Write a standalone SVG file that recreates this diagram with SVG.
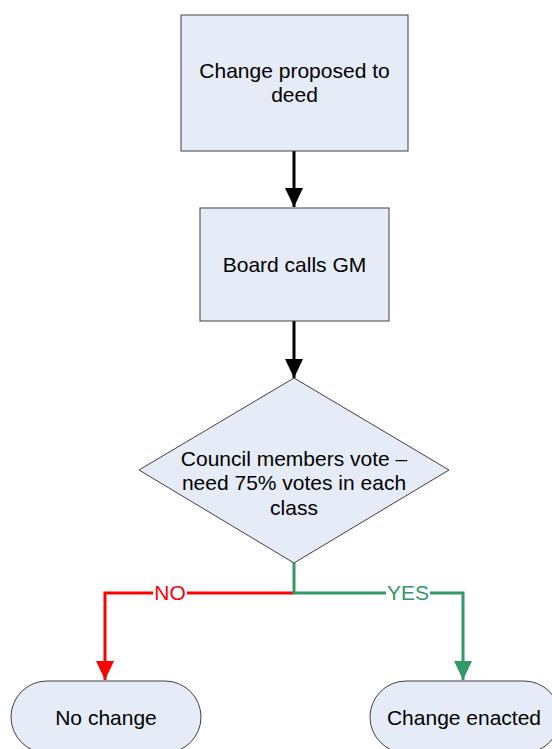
<svg xmlns="http://www.w3.org/2000/svg" width="552" height="749" viewBox="0 0 552 749">
<style>
.n{fill:#E6ECF7;stroke:#404040;stroke-width:1}
.t{font-family:"Liberation Sans",Arial,sans-serif;font-size:21px;fill:#000;text-anchor:middle}
.lbl{font-family:"Liberation Sans",Arial,sans-serif;font-size:21px;text-anchor:middle}
</style>
<defs>
<marker id="ab" markerUnits="userSpaceOnUse" markerWidth="20" markerHeight="20" refX="19" refY="9" orient="auto"><path d="M0,0 L19,9 L0,18 Z" fill="#000"/></marker>
<marker id="ar" markerUnits="userSpaceOnUse" markerWidth="20" markerHeight="20" refX="19" refY="9" orient="auto"><path d="M0,0 L19,9 L0,18 Z" fill="#FF0000"/></marker>
<marker id="ag" markerUnits="userSpaceOnUse" markerWidth="20" markerHeight="20" refX="19" refY="9" orient="auto"><path d="M0,0 L19,9 L0,18 Z" fill="#339966"/></marker>
</defs>
<rect width="552" height="749" fill="#fff"/>
<g id="connectors">
<line x1="294" y1="151" x2="294" y2="207" stroke="#000" stroke-width="3" marker-end="url(#ab)"/>
<line x1="294" y1="321" x2="294" y2="378" stroke="#000" stroke-width="3" marker-end="url(#ab)"/>
<polyline points="294,593 105,593 105,680" fill="none" stroke="#FF0000" stroke-width="3" marker-end="url(#ar)"/>
<polyline points="294,563 294,593 463,593 463,680" fill="none" stroke="#339966" stroke-width="3" marker-end="url(#ag)"/>
<rect x="153" y="583" width="34" height="20" fill="#fff"/>
<text class="lbl" x="170" y="600" fill="#FF0000">NO</text>
<rect x="386" y="583" width="44" height="20" fill="#fff"/>
<text class="lbl" x="408" y="600" fill="#339966">YES</text>
</g>
<g id="n1">
<rect class="n" x="181" y="15" width="227" height="136"/>
<text class="t" x="294.5" y="78">Change proposed to</text>
<text class="t" x="294.5" y="102">deed</text>
</g>
<g id="n2">
<rect class="n" x="200" y="208" width="189" height="113"/>
<text class="t" x="294.5" y="272">Board calls GM</text>
</g>
<g id="n3">
<polygon class="n" points="294,378 449,470 294,563 139,470"/>
<text class="t" x="294" y="466">Council members vote –</text>
<text class="t" x="294" y="490">need 75% votes in each</text>
<text class="t" x="294" y="515">class</text>
</g>
<g id="n4">
<rect class="n" x="11" y="681" width="190" height="72" rx="36" ry="36"/>
<text class="t" x="106" y="725">No change</text>
</g>
<g id="n5">
<rect class="n" x="370" y="681" width="190" height="72" rx="36" ry="36"/>
<text class="t" x="464" y="725">Change enacted</text>
</g>
</svg>
